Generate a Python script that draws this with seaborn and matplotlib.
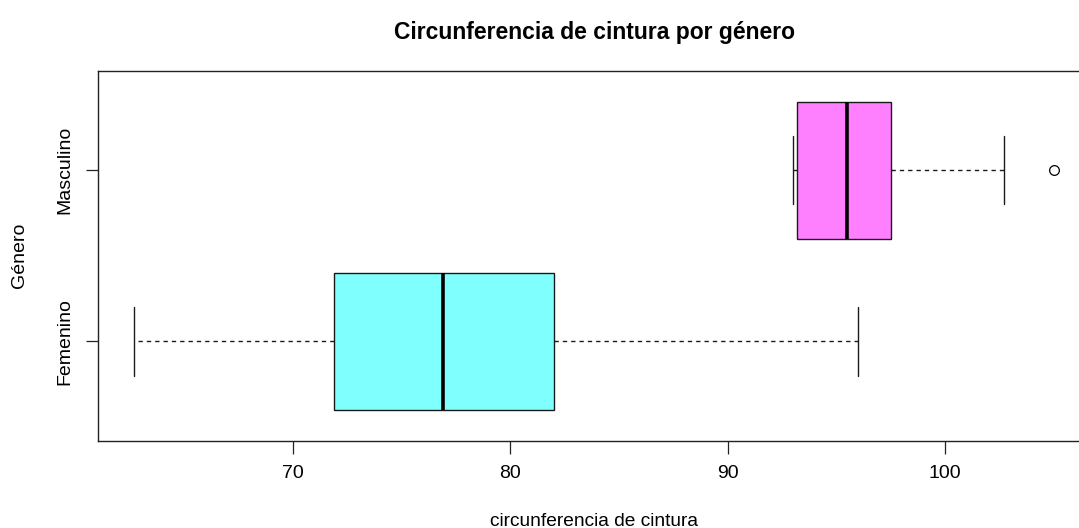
import matplotlib
matplotlib.use("Agg")
import matplotlib.pyplot as plt
import seaborn as sns

# Five-number summaries of waist circumference (cm) per gender
generos = ["Femenino", "Masculino"]
bigote_inf = [62.7, 93.0]
cuartil_1 = [71.9, 93.2]
mediana = [76.9, 95.5]
cuartil_3 = [82.0, 97.5]
bigote_sup = [96.0, 102.7]
atipicos = [[], [105.0]]
colores = ["#80FFFF", "#FF80FF"]
ticks_x = [70, 80, 90, 100]

sns.set_style("white")
plt.rcParams["font.family"] = ["Liberation Sans", "DejaVu Sans"]
plt.rcParams["text.color"] = "black"
plt.rcParams["axes.labelcolor"] = "black"
plt.rcParams["xtick.color"] = "black"
plt.rcParams["ytick.color"] = "black"

fig = plt.figure(figsize=(10.79, 5.28), dpi=100)
ax = fig.add_axes([0.0908, 0.1657, 0.92, 0.6998])

stats = [
    dict(label=g, whislo=lo, q1=a, med=m, q3=b, whishi=hi, fliers=f)
    for g, lo, a, m, b, hi, f in zip(generos, bigote_inf, cuartil_1, mediana,
                                     cuartil_3, bigote_sup, atipicos)
]

bp = ax.bxp(
    stats,
    positions=[1, 2],
    widths=0.8,
    capwidths=0.4,
    orientation="horizontal",
    patch_artist=True,
    boxprops=dict(edgecolor="#1a1a1a", linewidth=1.0),
    whiskerprops=dict(color="#1a1a1a", linewidth=1.0, linestyle=(0, (3.1, 2.9))),
    capprops=dict(color="#1a1a1a", linewidth=1.0),
    medianprops=dict(color="black", linewidth=2.6, solid_capstyle="butt"),
    flierprops=dict(marker="o", markerfacecolor="none", markeredgecolor="black",
                    markersize=7, markeredgewidth=0.9),
)
for caja, color in zip(bp["boxes"], colores):
    caja.set_facecolor(color)

ax.set_xlim(61.03, 106.69)
ax.set_ylim(0.42, 2.58)
ax.set_xticks(ticks_x)
ax.set_xticklabels([str(t) for t in ticks_x])
ax.set_yticks([1, 2])
ax.set_yticklabels(generos, rotation=90, va="center")

for lado in ["left", "bottom", "top", "right"]:
    ax.spines[lado].set_visible(True)
    ax.spines[lado].set_color("#222222")
    ax.spines[lado].set_linewidth(1.0)

ax.tick_params(axis="both", direction="out", length=9, width=0.9,
               color="#222222", labelcolor="black", labelsize=14, pad=8.5,
               bottom=True, left=True, top=False, right=False)

ax.set_title("Circunferencia de cintura por género", fontsize=16.5,
             fontweight="bold", pad=23, color="black")
ax.set_xlabel("circunferencia de cintura", fontsize=13.8, va="baseline")
ax.xaxis.set_label_coords(0.5, -0.2314)
ax.set_ylabel("Género", fontsize=14, va="center")
ax.yaxis.set_label_coords(-0.079, 0.5)

fig.savefig("out.png", dpi=100)
